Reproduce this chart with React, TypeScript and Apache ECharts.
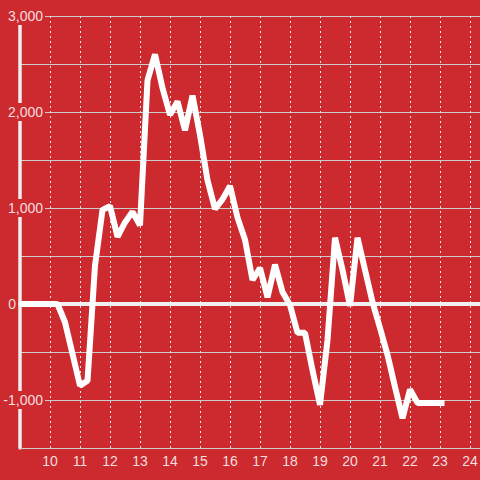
import React, { useEffect, useRef } from "react";
import * as echarts from "echarts";

const hours: number[] = [
  9, 9.25, 9.5, 9.75, 10, 10.25, 10.5, 10.75, 11, 11.25,
  11.5, 11.75, 12, 12.25, 12.5, 12.75, 13, 13.25, 13.5, 13.75,
  14, 14.25, 14.5, 14.75, 15, 15.25, 15.5, 15.75, 16, 16.25,
  16.5, 16.75, 17, 17.25, 17.5, 17.75, 18, 18.25, 18.5, 18.75,
  19, 19.25, 19.5, 19.75, 20, 20.25, 20.5, 20.75, 21, 21.25,
  21.5, 21.75, 22, 22.25, 22.5, 22.75, 23, 23.15,
];

const values: number[] = [
  0, 0, 0, 0, 0, 0, -190, -520, -850, -800,
  400, 980, 1020, 700, 850, 960, 820, 2330, 2600, 2250,
  1970, 2110, 1810, 2170, 1760, 1290, 990, 1090, 1230, 900,
  670, 250, 375, 70, 410, 125, -10, -300, -300, -690,
  -1050, -375, 690, 355, -20, 690, 355, 20, -250, -530,
  -865, -1190, -890, -1030, -1030, -1030, -1030, -1030,
];

const yMin = -1500;
const yMax = 3000;
const yStep = 500;
const xMin = 9;
const xMax = 24.333;

const BG = "#cc2a2f";
const LABEL = "rgba(255,255,255,0.85)";
const FONT = "'Liberation Sans', Arial, sans-serif";

export default function App() {
  const ref = useRef<HTMLDivElement>(null);

  useEffect(() => {
    document.body.style.margin = "0";
    if (!ref.current) return;
    const chart = echarts.init(ref.current, null, { renderer: "svg" });
    const data = hours.map((h, i) => [h, values[i]]);
    chart.setOption({
      animation: false,
      backgroundColor: BG,
      grid: {
        left: 20,
        right: 0,
        top: 16,
        bottom: 32,
        containLabel: false,
        outerBoundsMode: "none",
      },
      xAxis: [
        {
          type: "value",
          min: xMin,
          max: xMax,
          interval: 1,
          axisLine: { show: true, onZero: false, lineStyle: { color: "#cccccc", width: 1 } },
          axisTick: { show: false },
          axisLabel: {
            color: LABEL,
            fontSize: 14,
            fontFamily: FONT,
            margin: 6,
            formatter: (v: number) =>
              Number.isInteger(v) && v >= 10 && v <= 24 ? String(v) : "",
          },
          splitLine: {
            show: true,
            lineStyle: { color: "#e8e8e8", width: 1, type: [2, 3] },
          },
        },
        {
          type: "value",
          min: xMin,
          max: xMax,
          position: "bottom",
          axisLine: {
            show: true,
            onZero: true,
            onZeroAxisIndex: 0,
            lineStyle: { color: "#f0f0f0", width: 4 },
          },
          axisTick: { show: false },
          axisLabel: { show: false },
          splitLine: { show: false },
        },
      ],
      yAxis: {
        type: "value",
        min: yMin,
        max: yMax,
        interval: yStep,
        axisLine: { show: true, lineStyle: { color: "#eeeeee", width: 3.5 } },
        axisTick: { show: false },
        axisLabel: {
          align: "right",
          margin: -25,
          color: LABEL,
          fontSize: 14,
          fontFamily: FONT,
          formatter: (v: number) => {
            if (v % 1000 !== 0) return "";
            if (v === 0) return "{z|0}";
            return "{n|" + v.toLocaleString("en-US") + "}";
          },
          rich: {
            n: {
              backgroundColor: BG,
              padding: [2, 2],
              color: LABEL,
              fontSize: 14,
              fontFamily: FONT,
            },
            z: {
              padding: [0, 29, 0, 0],
              color: LABEL,
              fontSize: 14,
              fontFamily: FONT,
            },
          },
        },
        splitLine: {
          show: true,
          lineStyle: { color: "#cccccc", width: 1 },
        },
      },
      series: [
        {
          type: "line",
          xAxisIndex: 0,
          data,
          symbol: "none",
          lineStyle: { color: "#ffffff", width: 6 },
        },
      ],
    });
    return () => chart.dispose();
  }, []);

  return (
    <div
      ref={ref}
      style={{ position: "absolute", left: 0, top: 0, width: 480, height: 480 }}
    />
  );
}
